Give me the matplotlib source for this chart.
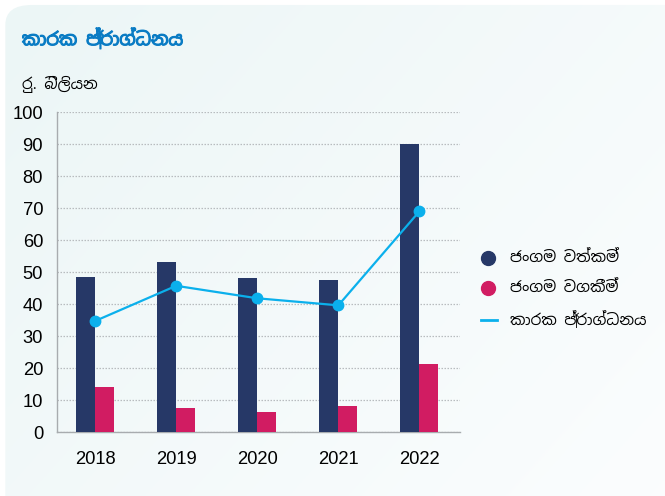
import numpy as np
import matplotlib.pyplot as plt
import matplotlib.patheffects as pe
from matplotlib.patches import FancyBboxPatch

plt.rcParams['font.family'] = ['Noto Sans Sinhala', 'Noto Sans', 'DejaVu Sans']

years = ["2018", "2019", "2020", "2021", "2022"]
current_assets = [48.4, 53.1, 48.0, 47.5, 90.0]       # ජංගම වත්කම්
current_liabilities = [14.2, 7.5, 6.3, 8.2, 21.2]     # ජංගම වගකීම්
working_capital = [34.7, 45.7, 41.8, 39.6, 69.0]      # කාරක ප්‍රාග්ධනය

TITLE = "කාරක ප්‍රාග්ධනය"
UNIT = "රු. බිලියන"
LABELS = ["ජංගම වත්කම්", "ජංගම වගකීම්", "කාරක ප්‍රාග්ධනය"]

NAVY = "#263867"
PINK = "#d11c62"
BLUE = "#0bb0ec"
NUM_FONT = ["Liberation Sans", "DejaVu Sans"]

fig = plt.figure(figsize=(6.65, 4.96), dpi=100)

# soft gradient panel behind everything
bg = fig.add_axes([0, 0, 1, 1], zorder=-10)
bg.set_xlim(0, 1)
bg.set_ylim(0, 1)
bg.axis("off")
gx, gy = np.meshgrid(np.linspace(0, 1, 200), np.linspace(1, 0, 200))
t = np.clip(0.6 * gx + 0.4 * (1 - gy), 0, 1)
c0 = np.array([0.925, 0.965, 0.965])
c1 = np.array([0.985, 0.992, 0.996])
img = c0[None, None, :] * (1 - t[..., None]) + c1[None, None, :] * t[..., None]
panel = FancyBboxPatch((0.008, -0.05), 1.05, 1.04,
                       boxstyle="round,pad=0,rounding_size=0.04",
                       transform=bg.transAxes, facecolor="none", edgecolor="none")
bg.add_patch(panel)
im = bg.imshow(img, extent=[0, 1, 0, 1], aspect="auto")
im.set_clip_path(panel)

ax = fig.add_axes([0.0857, 0.129, 0.606, 0.645])
ax.patch.set_alpha(0)
x = np.arange(len(years))
w = 0.235
ax.bar(x - w / 2, current_assets, w, color=NAVY, zorder=3)
ax.bar(x + w / 2, current_liabilities, w, color=PINK, zorder=3)
ax.plot(x, working_capital, color=BLUE, lw=1.6, marker="o", ms=7.5, zorder=4)

ax.set_xlim(-0.47, 4.5)
ax.set_ylim(0, 100)
ax.set_yticks(range(0, 101, 10))
ax.set_xticks(x)
ax.set_xticklabels(years)
ax.tick_params(axis="both", length=0, labelsize=13.2, colors="black")
ax.tick_params(axis="y", pad=10)
ax.tick_params(axis="x", pad=14)
for lab in ax.get_xticklabels() + ax.get_yticklabels():
    lab.set_family(NUM_FONT)
ax.grid(axis="y", color="#b8bcbf", ls=(0, (1.2, 1.2)), lw=0.9, zorder=0)
for s in ("top", "right"):
    ax.spines[s].set_visible(False)
for s in ("left", "bottom"):
    ax.spines[s].set_color("#a8acaf")
    ax.spines[s].set_linewidth(1.0)

fig.text(0.033, 0.923, TITLE, color="#0a7cc4", fontsize=13, fontweight="bold",
         va="center", ha="left",
         path_effects=[pe.withStroke(linewidth=0.8, foreground="#0a7cc4")])
fig.text(0.033, 0.829, UNIT, color="black", fontsize=11, va="center", ha="left")

# legend drawn by hand in figure pixels
lx = 488 / 665
for i, yy in enumerate([258, 288]):
    fy = 1 - yy / 496
    fig.lines.append(plt.Line2D([lx], [fy], marker="o", ms=10,
                                color=[NAVY, PINK][i], transform=fig.transFigure))
    fig.text(510 / 665, fy, LABELS[i], fontsize=11, va="center", ha="left")
fy = 1 - 320 / 496
fig.lines.append(plt.Line2D([481 / 665, 497 / 665], [fy, fy], color=BLUE, lw=2,
                            transform=fig.transFigure))
fig.text(510 / 665, fy, LABELS[2], fontsize=11, va="center", ha="left")

fig.savefig("out.png", dpi=100)
